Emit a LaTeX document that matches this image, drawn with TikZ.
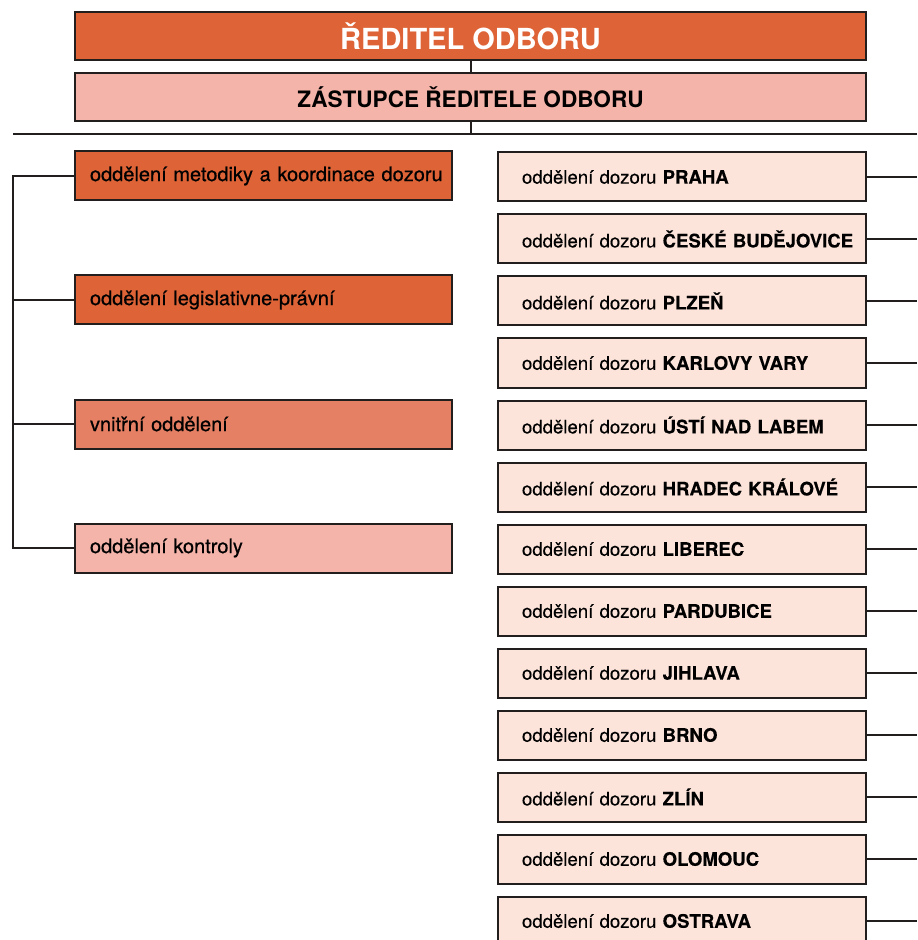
\documentclass[tikz,border=0pt]{standalone}
\usepackage{fontspec}
\setmainfont{TeX Gyre Heros}
\usepackage{xcolor}
\usepackage{tikz}
\usetikzlibrary{positioning}
\definecolor{boardorange}{RGB}{222,100,56}
\definecolor{boardpink}{RGB}{245,180,170}
\definecolor{unitsalmon}{RGB}{230,128,100}
\definecolor{unitcream}{RGB}{252,228,218}
\definecolor{edgegray}{RGB}{35,30,30}

\begin{document}
\begin{tikzpicture}[x=0.5pt, y=-0.5pt,
    headbox/.style={rectangle, draw=edgegray, line width=1pt,
      minimum width=395.5pt, minimum height=24pt, inner sep=0pt},
    leftunit/.style={rectangle, draw=edgegray, line width=1pt,
      text width=188.5pt, minimum height=24.5pt, inner sep=0pt, align=left,
      font=\fontsize{10}{12}\selectfont\addfontfeature{FakeBold=0.6},
      execute at begin node=\hspace*{7.5pt}},
    dozorunit/.style={rectangle, draw=edgegray, line width=1pt, fill=unitcream,
      text width=184pt, minimum height=24.5pt, inner sep=0pt, align=left,
      font=\fontsize{9.3}{11}\selectfont\addfontfeature{FakeBold=0.3},
      execute at begin node=\hspace*{12pt}},
    link/.style={draw=edgegray, line width=1pt}]
  \useasboundingbox (0,0) rectangle (917,940);

  % vedeni odboru
  \node[headbox, fill=boardorange, text=white,
        font=\bfseries\fontsize{14.5}{17}\selectfont] (reditel) at (470.5,36) {ŘEDITEL ODBORU};
  \node[headbox, fill=boardpink,
        font=\bfseries\fontsize{11.3}{14}\selectfont] (zastupce) at (470.5,97.5) {ZÁSTUPCE ŘEDITELE ODBORU};

  \coordinate (busW) at (13,134);
  \coordinate (busE) at (917,134);

  % leva vetev
  \node[leftunit, fill=boardorange] (metodika) at (263.5,176) {oddělení metodiky a koordinace dozoru};
  \node[leftunit, fill=boardorange] (legislativa) at (263.5,300) {oddělení legislativne-právní};
  \node[leftunit, fill=unitsalmon] (vnitrni) at (263.5,424) {vnitřní oddělení};
  \node[leftunit, fill=boardpink] (kontrola) at (263.5,548) {oddělení kontroly};

  % oddeleni dozoru
  \foreach \city [count=\i] in {PRAHA, ČESKÉ BUDĚJOVICE, PLZEŇ, KARLOVY VARY,
      ÚSTÍ NAD LABEM, HRADEC KRÁLOVÉ, LIBEREC, PARDUBICE, JIHLAVA, BRNO,
      ZLÍN, OLOMOUC, OSTRAVA}
    \node[dozorunit] (dozor\i) at (682,115+62*\i) {oddělení dozoru \textbf{\city}};

  % spoje
  \draw[link] (reditel) -- (zastupce);
  \draw[link] (zastupce) -- (zastupce |- busW);
  \draw[link] (busW) -- (busE);
  \draw[link] (metodika.west) -| (kontrola.west -| busW) -- (kontrola.west);
  \foreach \u in {legislativa, vnitrni}
    \draw[link] (\u.west) -- (\u.west -| busW);
  \foreach \i in {1,...,13}
    \draw[link] (dozor\i.east) -- (dozor\i.east -| busE);
\end{tikzpicture}
\end{document}
